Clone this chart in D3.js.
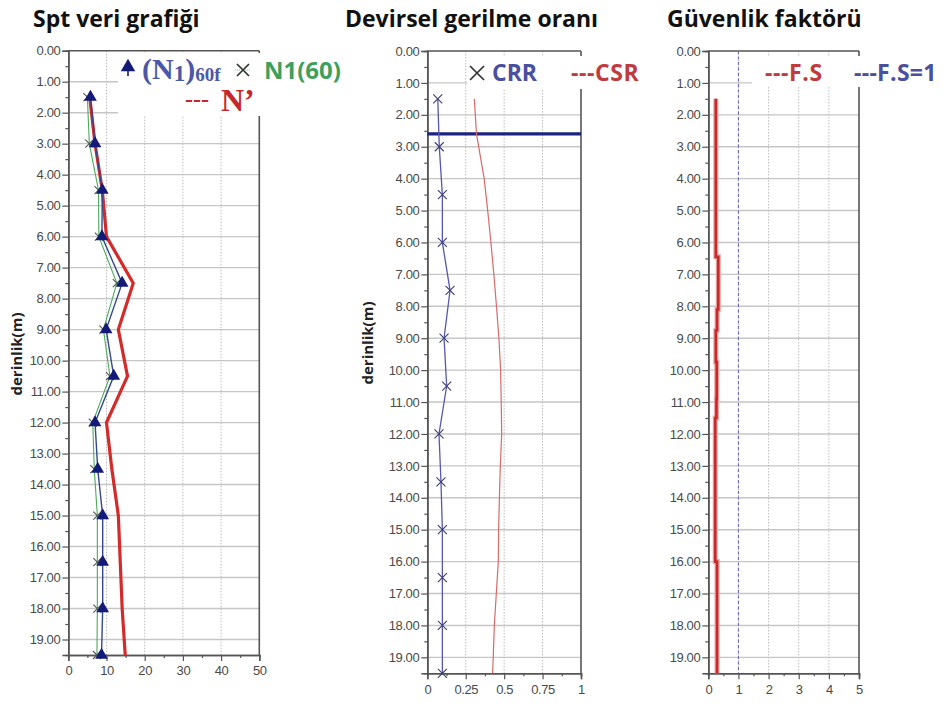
<!DOCTYPE html>
<html>
<head>
<meta charset="utf-8">
<script src="https://cdn.jsdelivr.net/npm/d3@7/dist/d3.min.js"></script>
<style>
  html, body { margin: 0; padding: 0; background: #fff; }
  svg { display: block; }
</style>
</head>
<body>
<svg id="chart" width="952" height="707"></svg>
<script>
// ---- SPT panel data (depth in m) ----
const sptDepths = [1.5, 3, 4.5, 6, 7.5, 9, 10.5, 12, 13.5, 15, 16.5, 18, 19.5];
const n160f     = [5.8, 7.0, 8.9, 8.8, 14.1, 9.9, 11.9, 7.0, 7.7, 9.0, 9.0, 9.0, 8.7];
const n160      = [5.0, 5.5, 7.9, 8.0, 12.7, 9.2, 10.9, 6.4, 6.8, 7.6, 7.6, 7.6, 7.5];
const nPrime    = [5.6, 7.0, 8.9, 10.0, 17.0, 13.1, 15.5, 10.0, 11.4, 13.1, 13.6, 14.1, 14.9];

// ---- cyclic stress ratio panel ----
const crr = [0.068, 0.078, 0.098, 0.098, 0.148, 0.109, 0.126, 0.076, 0.089, 0.098, 0.098, 0.098, 0.098];
const csrDepths = [1.5, 2.6, 4, 5, 6, 7, 8, 9, 10, 11, 12, 13, 14, 15, 16, 17, 18, 19, 19.5];
const csr       = [0.306, 0.32, 0.37, 0.393, 0.414, 0.433, 0.45, 0.466, 0.477, 0.481, 0.484, 0.475, 0.469, 0.464, 0.462, 0.449, 0.436, 0.429, 0.425];
const waterTable = 2.6;

// ---- factor of safety panel ----
const fsDepths = [1.5, 6.45, 6.45, 8.1, 8.1, 8.75, 8.75, 9.75, 9.75, 10.9, 10.9, 11.5, 11.5, 16.0, 16.0, 19.5];
const fsValues = [0.25, 0.25, 0.33, 0.33, 0.29, 0.29, 0.25, 0.25, 0.28, 0.28, 0.27, 0.27, 0.23, 0.23, 0.29, 0.29];
const fsLimit = 1;

// ---- axis tick labels ----
const depthTicks = d3.range(0, 19.5, 1);
const depthMinor = d3.range(0.5, 19.5, 1);
const sptTicks = [0, 10, 20, 30, 40, 50];
const ratioTicks = [0, 0.25, 0.5, 0.75, 1];
const fsTicks = [0, 1, 2, 3, 4, 5];

const titles = ["Spt veri grafiği", "Devirsel gerilme oranı", "Güvenlik faktörü"];
const depthLabel = "derinlik(m)";

const svg = d3.select("#chart");
const TICK_FONT = "'Liberation Sans', Arial, sans-serif";
const BOLD_FONT = "'Open Sans', 'Noto Sans', sans-serif";
const SERIF = "'Liberation Serif', 'Times New Roman', serif";

function panel(cfg) {
  const g = svg.append("g");
  const x = d3.scaleLinear().domain(cfg.xDomain).range([cfg.left, cfg.right]);
  const y = d3.scaleLinear().domain([0, 19.5]).range([cfg.top, cfg.bottom]);

  // horizontal grid
  g.append("g").selectAll("line").data(depthTicks.filter(d => d > 0)).join("line")
    .attr("x1", cfg.left).attr("x2", cfg.right)
    .attr("y1", d => y(d)).attr("y2", d => y(d))
    .attr("stroke", "#c6c6c6").attr("stroke-width", 1.4);
  // vertical grid
  g.append("g").selectAll("line").data(cfg.xTicks.slice(1, -1)).join("line")
    .attr("x1", d => x(d)).attr("x2", d => x(d))
    .attr("y1", cfg.top).attr("y2", cfg.bottom)
    .attr("stroke", "#bdbdbd").attr("stroke-width", 1).attr("stroke-dasharray", "1.5,1.5");

  // frame top / right
  g.append("line").attr("x1", cfg.left).attr("x2", cfg.right).attr("y1", cfg.top).attr("y2", cfg.top)
    .attr("stroke", "#555").attr("stroke-width", 1.6);
  g.append("line").attr("x1", cfg.right).attr("x2", cfg.right).attr("y1", cfg.top).attr("y2", cfg.bottom)
    .attr("stroke", "#555").attr("stroke-width", 1.6);

  // y axis
  const ya = g.append("g").attr("transform", `translate(${cfg.left},0)`)
    .call(d3.axisLeft(y).tickValues(depthTicks).tickFormat(d3.format(".2f")).tickSize(6).tickPadding(2));
  const yMinor = g.append("g").attr("transform", `translate(${cfg.left},0)`)
    .call(d3.axisLeft(y).tickValues(depthMinor).tickFormat("").tickSize(3));
  // x axis
  const xa = g.append("g").attr("transform", `translate(0,${cfg.bottom})`)
    .call(d3.axisBottom(x).tickValues(cfg.xTicks).tickFormat(cfg.xFormat).tickSize(6).tickPadding(5));
  const xm = [];
  for (let i = 0; i < cfg.xTicks.length - 1; i++) xm.push((cfg.xTicks[i] + cfg.xTicks[i + 1]) / 2);
  const xMinor = g.append("g").attr("transform", `translate(0,${cfg.bottom})`)
    .call(d3.axisBottom(x).tickValues(xm).tickFormat("").tickSize(3));
  [ya, yMinor, xa, xMinor].forEach(a => {
    a.select(".domain").attr("stroke", "#555").attr("stroke-width", 1.6);
    a.selectAll(".tick line").attr("stroke", "#555").attr("stroke-width", 1.2);
    a.selectAll("text").attr("font-family", TICK_FONT).attr("font-size", 13)
      .attr("fill", "#4a4a4a").attr("letter-spacing", "-0.4");
  });

  // legend background
  g.append("rect").attr("x", cfg.legend[0]).attr("y", cfg.legend[1])
    .attr("width", cfg.legend[2]).attr("height", cfg.legend[3]).attr("fill", "#fff");

  // title
  svg.append("text").attr("x", cfg.titleX).attr("y", 27).text(cfg.title)
    .attr("font-family", BOLD_FONT).attr("font-weight", 700).attr("font-size", 23).attr("fill", "#111");

  if (cfg.depthLabelX) {
    svg.append("text").attr("transform", `translate(${cfg.depthLabelX},${cfg.depthLabelY}) rotate(-90)`)
      .attr("text-anchor", "middle").text(depthLabel)
      .attr("font-family", BOLD_FONT).attr("font-weight", 700).attr("font-size", 15).attr("fill", "#222");
  }
  return { g, x, y };
}

function crossPath(s) {
  return `M${-s},${-s}L${s},${s}M${-s},${s}L${s},${-s}`;
}

// ===== Panel 1: SPT =====
{
  const { g, x, y } = panel({
    xDomain: [0, 50], left: 68.3, right: 259.3, top: 50.7, bottom: 655,
    xTicks: sptTicks, xFormat: d3.format("d"),
    legend: [118, 53, 240, 63], title: titles[0], titleX: 33,
    depthLabelX: 22, depthLabelY: 354
  });
  const line = d3.line().x(d => x(d[0])).y(d => y(d[1]));
  g.append("path").datum(sptDepths.map((d, i) => [nPrime[i], d])).attr("d", line)
    .attr("fill", "none").attr("stroke", "#d42a2a").attr("stroke-width", 3.2).attr("stroke-linejoin", "miter");
  g.append("path").datum(sptDepths.map((d, i) => [n160[i], d])).attr("d", line)
    .attr("fill", "none").attr("stroke", "#4caa5c").attr("stroke-width", 1.1);
  g.append("path").datum(sptDepths.map((d, i) => [n160f[i], d])).attr("d", line)
    .attr("fill", "none").attr("stroke", "#34488e").attr("stroke-width", 1.4);
  g.append("g").selectAll("path").data(sptDepths.map((d, i) => [n160[i], d])).join("path")
    .attr("transform", d => `translate(${x(d[0])},${y(d[1])})`).attr("d", crossPath(4))
    .attr("stroke", "#4d5a4d").attr("stroke-width", 1.1).attr("fill", "none");
  g.append("g").selectAll("path").data(sptDepths.map((d, i) => [n160f[i], d])).join("path")
    .attr("transform", d => `translate(${x(d[0])},${y(d[1])})`)
    .attr("d", d3.symbol(d3.symbolTriangle, 70)()).attr("fill", "#141a78");

  // legend
  g.append("line").attr("x1", 128).attr("x2", 128).attr("y1", 62).attr("y2", 76)
    .attr("stroke", "#141a78").attr("stroke-width", 1.6);
  g.append("path").attr("transform", "translate(128,67)").attr("d", d3.symbol(d3.symbolTriangle, 90)())
    .attr("fill", "#141a78");
  const t1 = g.append("text").attr("x", 142).attr("y", 79).attr("font-family", SERIF)
    .attr("font-weight", 700).attr("fill", "#4b57a8");
  t1.append("tspan").attr("font-size", 30).text("(N");
  t1.append("tspan").attr("font-size", 23).attr("dy", 2).text("1");
  t1.append("tspan").attr("font-size", 30).attr("dy", -2).text(")");
  t1.append("tspan").attr("font-size", 19).attr("dy", 2).text("60f");
  g.append("line").attr("x1", 235).attr("x2", 251).attr("y1", 70).attr("y2", 70)
    .attr("stroke", "#8ac08a").attr("stroke-width", 1).attr("stroke-dasharray", "1,1");
  g.append("path").attr("transform", "translate(243,70)").attr("d", crossPath(6))
    .attr("stroke", "#2f3a2f").attr("stroke-width", 1.7);
  g.append("text").attr("x", 264).attr("y", 79).text("N1(60)")
    .attr("font-family", BOLD_FONT).attr("font-weight", 700).attr("font-size", 24).attr("fill", "#3f9f5c");
  g.append("text").attr("x", 185).attr("y", 107).text("---")
    .attr("font-family", SERIF).attr("font-weight", 700).attr("font-size", 24).attr("fill", "#c4282c");
  g.append("text").attr("x", 221).attr("y", 111).text("N’")
    .attr("font-family", SERIF).attr("font-weight", 700).attr("font-size", 32).attr("fill", "#c4282c");
}

// ===== Panel 2: CRR / CSR =====
{
  const { g, x, y } = panel({
    xDomain: [0, 1], left: 427.3, right: 581, top: 51, bottom: 673.3,
    xTicks: ratioTicks, xFormat: d => d3.format("")(d),
    legend: [467, 56, 190, 33], title: titles[1], titleX: 345,
    depthLabelX: 373, depthLabelY: 343
  });
  const line = d3.line().x(d => x(d[0])).y(d => y(d[1]));
  g.append("line").attr("x1", x(0)).attr("x2", x(1)).attr("y1", y(waterTable)).attr("y2", y(waterTable))
    .attr("stroke", "#1b2580").attr("stroke-width", 3.2);
  g.append("path").datum(csrDepths.map((d, i) => [csr[i], d])).attr("d", line)
    .attr("fill", "none").attr("stroke", "#d86a6a").attr("stroke-width", 1.2);
  g.append("path").datum(sptDepths.map((d, i) => [crr[i], d])).attr("d", line)
    .attr("fill", "none").attr("stroke", "#5558b0").attr("stroke-width", 1.3);
  g.append("g").selectAll("path").data(sptDepths.map((d, i) => [crr[i], d])).join("path")
    .attr("transform", d => `translate(${x(d[0])},${y(d[1])})`).attr("d", crossPath(4.5))
    .attr("stroke", "#3a3c78").attr("stroke-width", 1.1).attr("fill", "none");
  // legend
  g.append("path").attr("transform", "translate(477,73)").attr("d", crossPath(7))
    .attr("stroke", "#333").attr("stroke-width", 1.7);
  g.append("text").attr("x", 492).attr("y", 81).text("CRR")
    .attr("font-family", BOLD_FONT).attr("font-weight", 700).attr("font-size", 23).attr("fill", "#4a4f9e");
  g.append("text").attr("x", 571).attr("y", 81).text("---CSR")
    .attr("font-family", BOLD_FONT).attr("font-weight", 700).attr("font-size", 23)
    .attr("letter-spacing", "0.6").attr("fill", "#c03a3e");
}

// ===== Panel 3: factor of safety =====
{
  const { g, x, y } = panel({
    xDomain: [0, 5], left: 708.3, right: 859, top: 51, bottom: 673.3,
    xTicks: fsTicks, xFormat: d3.format("d"),
    legend: [752, 56, 200, 31], title: titles[2], titleX: 667
  });
  const line = d3.line().x(d => x(d[0])).y(d => y(d[1]));
  g.append("line").attr("x1", x(fsLimit)).attr("x2", x(fsLimit)).attr("y1", y(0)).attr("y2", y(19.5))
    .attr("stroke", "#6a6ac8").attr("stroke-width", 1.1).attr("stroke-dasharray", "3,2.5");
  const fsPts = fsDepths.map((d, i) => [fsValues[i], d]);
  g.append("path").datum(fsPts).attr("d", line)
    .attr("fill", "none").attr("stroke", "#f2a0a0").attr("stroke-width", 5);
  g.append("path").datum(fsPts).attr("d", line)
    .attr("fill", "none").attr("stroke", "#c42a2a").attr("stroke-width", 2.6);
  // legend
  g.append("text").attr("x", 765).attr("y", 81).text("---F.S")
    .attr("font-family", BOLD_FONT).attr("font-weight", 700).attr("font-size", 23)
    .attr("letter-spacing", "0.6").attr("fill", "#c03a3e");
  g.append("text").attr("x", 854).attr("y", 81).text("---F.S=1")
    .attr("font-family", BOLD_FONT).attr("font-weight", 700).attr("font-size", 23)
    .attr("letter-spacing", "0.3").attr("fill", "#4a4f9e");
}
</script>
</body>
</html>
